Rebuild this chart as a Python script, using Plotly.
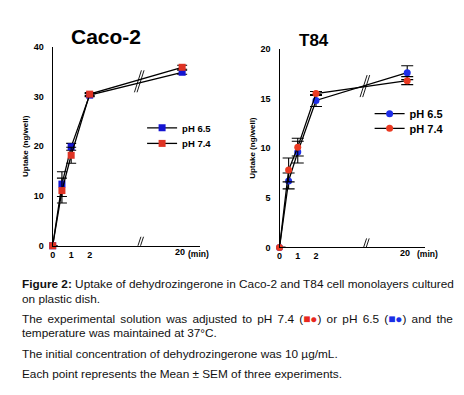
import plotly.graph_objects as go
import numpy as np

# ---------------- data ----------------
time_min = [0, 0.5, 1, 2, 20]
caco_ph65 = [0, 12.4, 19.9, 30.3, 34.9]
caco_ph65_err = [0, 2.5, 0.7, 0.3, 0.4]
caco_ph74 = [0, 11.1, 18.2, 30.5, 35.9]
caco_ph74_err = [0, 2.5, 1.6, 0.3, 0.4]
t84_ph65 = [0, 6.7, 9.6, 14.8, 17.6]
t84_ph65_err = [0, 0.8, 1.1, 0.6, 0.7]
t84_ph74 = [0, 7.8, 10.1, 15.5, 16.8]
t84_ph74_err = [0, 1.2, 0.9, 0.2, 0.4]
x_tick_minutes = [0, 1, 2, 20]
series_names = ["pH 6.5", "pH 7.4"]
panel_titles = ["Caco-2", "T84"]
y_ticks_caco = [0, 10, 20, 30, 40]
y_ticks_t84 = [0, 5, 10, 15, 20]

caption_lines = [
    "<b>Figure 2:</b> Uptake of dehydrozingerone in Caco-2 and T84 cell monolayers cultured",
    "on plastic dish.",
    "<span style='word-spacing:1.95px'>The experimental solution was adjusted to pH 7.4 (<span style='color:#e8281e'>■●</span>) or pH 6.5 (<span style='color:#1a2ee6'>■●</span>) and the</span>",
    "temperature was maintained at 37°C.",
    "The initial concentration of dehydrozingerone was 10 µg/mL.",
    "Each point represents the Mean ± SEM of three experiments.",
]

# ---------------- broken time axis ----------------
BREAK_POS = 4.68      # axis position of the break
AXIS_OFFSET = 13      # minutes removed by the break
X_END = 7.95


def to_axis(t):
    t = np.asarray(t, dtype=float)
    return np.where(t <= 2, t, t - AXIS_OFFSET)


W, H = 464, 395
FONT = "Arial, Liberation Sans, Helvetica, sans-serif"
BLUE = "#1414d2"
RED = "#de3324"
BLUE_C = "#1e2ee8"
RED_C = "#ea3a22"


def px(x):
    return x / W


def py(y):
    return 1 - y / H


fig = go.Figure()

panels = [
    dict(xa="x", ya="y", legends=["legend", "legend2"], symbol="square",
         data=[(caco_ph65, caco_ph65_err, BLUE), (caco_ph74, caco_ph74_err, RED)], size=7, errw=5),
    dict(xa="x2", ya="y2", legends=["legend3", "legend4"], symbol="circle",
         data=[(t84_ph65, t84_ph65_err, BLUE_C), (t84_ph74, t84_ph74_err, RED_C)], size=7, errw=6),
]

xs = to_axis(time_min)
for p in panels:
    for name, lg, (vals, errs, col) in zip(series_names, p["legends"], p["data"]):
        fig.add_trace(go.Scatter(
            x=xs, y=vals, name=name, mode="lines+markers",
            xaxis=p["xa"], yaxis=p["ya"], legend=lg,
            line=dict(color="black", width=1.3),
            marker=dict(symbol=p["symbol"], size=p["size"], color=col, line=dict(width=0)),
            error_y=dict(type="data", array=errs, visible=True, color="black",
                         thickness=1.1, width=p["errw"]),
            cliponaxis=False,
        ))

axis_common = dict(showgrid=False, zeroline=False, showline=True, linecolor="black",
                   linewidth=1.2, ticks="", tickfont=dict(family=FONT, size=9, color="black", weight="bold"))

xtick_vals = [float(v) for v in to_axis(x_tick_minutes[:3])]
xtick_text = [str(v) for v in x_tick_minutes[:3]]


def legend_at(x, y, size):
    return dict(x=px(x), y=py(y), xanchor="left", yanchor="middle", bgcolor="rgba(0,0,0,0)",
                font=dict(size=size, weight="bold", color="black"), itemwidth=30)


fig.update_layout(
    width=W, height=H, margin=dict(l=0, r=0, t=0, b=0),
    paper_bgcolor="white", plot_bgcolor="white",
    font=dict(family=FONT, color="black"),
    xaxis=dict(domain=[px(50), px(198)], range=[0, X_END], anchor="y",
               tickvals=xtick_vals, ticktext=xtick_text, **axis_common),
    yaxis=dict(domain=[py(247), py(43)], range=[0, 40], anchor="x", tickvals=y_ticks_caco,
               ticklabelstandoff=6,
               title=dict(text="Uptake (ng/well)", font=dict(size=8, weight="bold"), standoff=3),
               **axis_common),
    xaxis2=dict(domain=[px(278.3), px(424.3)], range=[0, X_END], anchor="y2",
                tickvals=xtick_vals, ticktext=xtick_text, **axis_common),
    yaxis2=dict(domain=[py(248.7), py(45)], range=[0, 20], anchor="x2", tickvals=y_ticks_t84,
                ticklabelstandoff=6,
                title=dict(text="Uptake (ng/well)", font=dict(size=8, weight="bold"), standoff=3),
                **axis_common),
    legend=legend_at(140, 126, 9.5),
    legend2=legend_at(140, 142, 9.5),
    legend3=legend_at(369, 111.5, 11),
    legend4=legend_at(369, 126.5, 11),
    showlegend=True,
)

# panel titles
fig.add_annotation(text="<b>%s</b>" % panel_titles[0], x=px(103.7), y=py(32.7), xref="paper", yref="paper",
                   showarrow=False, font=dict(size=21, color="black"), xanchor="center", yanchor="middle")
fig.add_annotation(text="<b>%s</b>" % panel_titles[1], x=px(313.3), y=py(36.7), xref="paper", yref="paper",
                   showarrow=False, font=dict(size=17, color="black"), xanchor="center", yanchor="middle")

# "20" tick after break and (min) labels
for xa, ya, minpx in [("x", "y", 196.7), ("x2", "y2", 427)]:
    fig.add_annotation(text="<b>%d</b>" % x_tick_minutes[3], x=float(to_axis(x_tick_minutes[3])), xref=xa,
                       xshift=-2, y=0, yref=ya, yshift=1, showarrow=False, yanchor="top",
                       font=dict(size=9, color="black"))
    fig.add_annotation(text="<b>(min)</b>", x=px(minpx), xref="paper", y=py(255.5), yref="paper",
                       showarrow=False, xanchor="center", yanchor="middle", font=dict(size=8.5, color="black"))

# break marks on axes and on the data lines
for xa, ya, s1, s2 in [("x", "y", caco_ph65, caco_ph74), ("x2", "y2", t84_ph65, t84_ph74)]:
    ymid = (np.interp(BREAK_POS, xs, s1) + np.interp(BREAK_POS, xs, s2)) / 2
    for dx in (-1.3, 1.3):
        fig.add_shape(type="line", xref=xa, yref=ya, xsizemode="pixel", ysizemode="pixel",
                      xanchor=BREAK_POS, yanchor=0, x0=dx - 3, x1=dx + 3, y0=-9, y1=9,
                      line=dict(color="black", width=0.9))
        fig.add_shape(type="line", xref=xa, yref=ya, xsizemode="pixel", ysizemode="pixel",
                      xanchor=BREAK_POS, yanchor=float(ymid), x0=dx - 3.5, x1=dx + 3.5, y0=-11, y1=11,
                      line=dict(color="black", width=0.9))

# caption
cap_y = [286, 301.7, 322.3, 336.7, 358.3, 378.3]
for txt, yy in zip(caption_lines, cap_y):
    fig.add_annotation(text=txt, x=px(17), y=py(yy), xref="paper", yref="paper", showarrow=False,
                       xanchor="left", yanchor="middle", align="left",
                       font=dict(size=11.8, color="#111111", family=FONT))

fig.write_html("out.html", post_script="document.body.style.margin='0';",
               config={"displayModeBar": False})
